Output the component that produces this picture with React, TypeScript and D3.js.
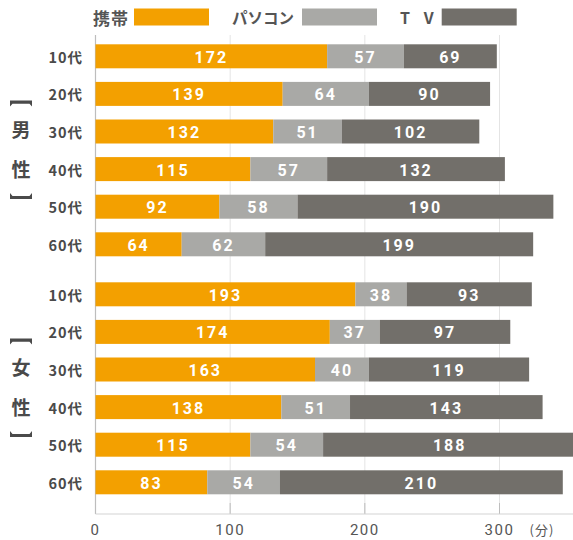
import React from 'react';
import * as d3 from 'd3';

const ages = ['10代', '20代', '30代', '40代', '50代', '60代'];
const groups = ['男', '女'];
const seriesNames = ['携帯', 'パソコン', 'T V'];
const colors = ['#F3A000', '#A9A9A6', '#726F6A'];

const maleMobile = [172, 139, 132, 115, 92, 64];
const malePC = [57, 64, 51, 57, 58, 62];
const maleTV = [69, 90, 102, 132, 190, 199];
const femaleMobile = [193, 174, 163, 138, 115, 83];
const femalePC = [38, 37, 40, 51, 54, 54];
const femaleTV = [93, 97, 119, 143, 188, 210];

const xTicks = [0, 100, 200, 300];

const width = 573;
const height = 540;
const barH = 24;
const rowTop0 = 44.3;
const rowStep = 37.6;
const groupGap = 12.4;
const axisBottom = 514;
const axisTop = 35;

const jp = '"Noto Sans CJK JP", "Noto Sans", sans-serif';
const num = 'Roboto, "Noto Sans", sans-serif';

// vertical lenticular bracket, drawn pointing down (top) or up (bottom)
function bracketPath(cx: number, y: number, up: boolean) {
  const p = d3.path();
  const s = up ? -1 : 1;
  p.moveTo(cx - 11, y + s * 6);
  p.lineTo(cx - 11, y);
  p.lineTo(cx + 11, y);
  p.lineTo(cx + 11, y + s * 6);
  p.lineTo(cx + 8.5, y + s * 3.2);
  p.lineTo(cx - 8.5, y + s * 3.2);
  p.closePath();
  return p.toString();
}

function App() {
  const x = d3.scaleLinear().domain([0, 300]).range([95.5, 499.5]);
  const rowY = d3.scaleLinear().domain([0, 1]).range([rowTop0, rowTop0 + rowStep]);

  const groupData = [
    [maleMobile, malePC, maleTV],
    [femaleMobile, femalePC, femaleTV],
  ];

  const rows = groupData.flatMap((g, gi) =>
    ages.map((age, ai) => {
      const values = g.map((s) => s[ai]);
      const stack = d3.stack<number[]>().keys(['0', '1', '2']).value((d, k) => d[+k])([values]);
      const top = rowY(gi * 6 + ai) + gi * groupGap;
      return { key: `${gi}-${age}`, age, top, segs: stack.map((s, si) => ({ si, v: values[si], x0: s[0][0], x1: s[0][1] })) };
    })
  );

  const legendX = [
    { tx: 93, sx: 134, ls: 1, fs: 17 },
    { tx: 232, sx: 302, ls: 0, fs: 15.5 },
    { tx: 400, sx: 441.7, ls: 5, fs: 16 },
  ];

  return (
    <div style={{ position: 'absolute', left: 0, top: 0 }}>
      <svg width={width} height={height} style={{ display: 'block', background: '#fff' }}>
        {/* legend */}
        {seriesNames.map((n, i) => (
          <g key={n}>
            <text x={legendX[i].tx} y={17} dominantBaseline="central" fontFamily={jp} fontWeight="bold" fontSize={legendX[i].fs} fill="#555" letterSpacing={legendX[i].ls}>
              {n}
            </text>
            <rect x={legendX[i].sx} y={8.5} width={75} height={17} fill={colors[i]} />
          </g>
        ))}

        {/* gridlines */}
        {xTicks.slice(1).map((t) => (
          <g key={t}>
            <line x1={x(t)} x2={x(t)} y1={axisTop} y2={axisBottom} stroke="#e4e4e4" strokeWidth={1} />
            <line x1={x(t)} x2={x(t)} y1={axisBottom - 11} y2={axisBottom} stroke="#bdbdbd" strokeWidth={1} />
          </g>
        ))}

        {/* axes */}
        <line x1={x(0)} x2={x(0)} y1={axisTop} y2={axisBottom} stroke="#bdbdbd" strokeWidth={1.2} />
        <line x1={x(0)} x2={width} y1={axisBottom} y2={axisBottom} stroke="#d4d4d4" strokeWidth={1.2} />

        {xTicks.map((t) => (
          <text key={t} x={x(t)} y={530} textAnchor="middle" dominantBaseline="central" fontFamily={num} fontSize={15} fill="#555" letterSpacing={1.5}>
            {t}
          </text>
        ))}
        <text x={542} y={529} textAnchor="middle" dominantBaseline="central" fontFamily={jp} fontSize={13} fill="#555" letterSpacing={1}>
          (分)
        </text>

        {/* bars */}
        {rows.map((r) => (
          <g key={r.key}>
            <text x={83} y={r.top + barH / 2} textAnchor="end" dominantBaseline="central" fontFamily={jp} fontWeight="bold" fontSize={14.5} fill="#4a4a4a" letterSpacing={1}>
              {r.age}
            </text>
            {r.segs.map((s) => (
              <g key={s.si}>
                <rect x={x(s.x0)} y={r.top} width={x(s.x1) - x(s.x0)} height={barH} fill={colors[s.si]} />
                <text x={(x(s.x0) + x(s.x1)) / 2} y={r.top + barH / 2 + 1} textAnchor="middle" dominantBaseline="central" fontFamily={num} fontWeight="bold" fontSize={16} fill="#fff" letterSpacing={2}>
                  {s.v}
                </text>
              </g>
            ))}
          </g>
        ))}

        {/* group labels */}
        {groups.map((g, gi) => {
          const y30 = rowY(gi * 6 + 2) + gi * groupGap + barH / 2;
          const y40 = rowY(gi * 6 + 3) + gi * groupGap + barH / 2;
          return (
            <g key={g} fontFamily={jp} fontWeight="bold" fill="#4a4a4a" textAnchor="middle">
              <path d={bracketPath(21, y30 - 31, false)} fill="#4a4a4a" />
              <text x={21} y={y30 - 3} dominantBaseline="central" fontSize={19}>{g}</text>
              <text x={21} y={y40 - 1} dominantBaseline="central" fontSize={19}>性</text>
              <path d={bracketPath(21, y40 + 30, true)} fill="#4a4a4a" />
            </g>
          );
        })}
      </svg>
    </div>
  );
}

export default App;
